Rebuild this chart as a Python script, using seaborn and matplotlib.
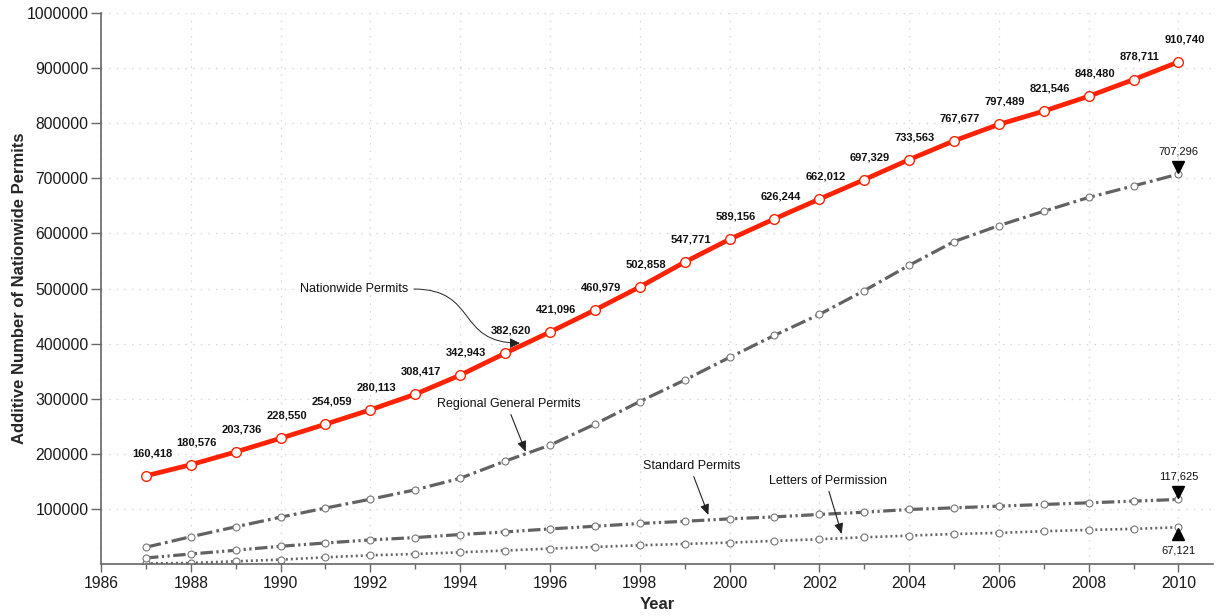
import pandas as pd
import matplotlib
matplotlib.use("Agg")
import matplotlib.pyplot as plt
import matplotlib.transforms as mtransforms
from matplotlib.path import Path
from matplotlib.patches import FancyArrowPatch
from matplotlib.ticker import MultipleLocator
import seaborn as sns

# Cumulative permit counts per year
years = list(range(1987, 2011))
nationwide = [160418, 180576, 203736, 228550, 254059, 280113, 308417, 342943,
              382620, 421096, 460979, 502858, 547771, 589156, 626244, 662012,
              697329, 733563, 767677, 797489, 821546, 848480, 878711, 910740]
regional = [31000, 50000, 68000, 85500, 102000, 118000, 135000, 156000,
            187000, 216000, 254000, 295000, 334000, 375000, 415000, 453000,
            496000, 542000, 585000, 614000, 640000, 665000, 686000, 707296]
standard = [11500, 18700, 25500, 32700, 38700, 44200, 48500, 54000,
            58700, 64200, 69000, 74000, 78000, 82400, 86000, 90400,
            94500, 99400, 102400, 105500, 108500, 111500, 114500, 117625]
letters = [1500, 2400, 5500, 8500, 12700, 16400, 18700, 21800,
           25000, 28500, 31500, 34500, 37000, 39400, 42400, 45500,
           49000, 52000, 55000, 57000, 60000, 62400, 64200, 67121]

df = pd.DataFrame({"Year": years, "Nationwide": nationwide, "Regional": regional,
                   "Standard": standard, "Letters": letters})

sns.set_style("white")
plt.rcParams["font.family"] = ["Liberation Sans", "DejaVu Sans"]
plt.rcParams["lines.scale_dashes"] = False

fig = plt.figure(figsize=(12.16, 6.16), dpi=100)
ax = fig.add_axes([0.0831, 0.0839, 0.9144, 0.8955])

gray = "#626262"
sns.lineplot(data=df, x="Year", y="Letters", ax=ax, color=gray, lw=1.9,
             linestyle=(0, (1.4, 2.2)), marker="o", markersize=5,
             markerfacecolor="white", markeredgecolor="#777777", markeredgewidth=0.8)
sns.lineplot(data=df, x="Year", y="Standard", ax=ax, color=gray, lw=2.3,
             linestyle=(0, (9, 2.5, 1.6, 2.5, 1.6, 2.5)), marker="o", markersize=5,
             markerfacecolor="white", markeredgecolor="#777777", markeredgewidth=0.8)
sns.lineplot(data=df, x="Year", y="Regional", ax=ax, color=gray, lw=2.3,
             linestyle=(0, (11, 3, 2, 3)), marker="o", markersize=5,
             markerfacecolor="white", markeredgecolor="#777777", markeredgewidth=0.8)
sns.lineplot(data=df, x="Year", y="Nationwide", ax=ax, color="#ff2200", lw=3.4,
             marker="o", markersize=7, markerfacecolor="white",
             markeredgecolor="#ff2200", markeredgewidth=1.0)

# value labels on the nationwide series
for x, v in zip(years, nationwide):
    ax.annotate(f"{v:,}", (x, v), xytext=(4.3, 16.3), textcoords="offset points",
                ha="center", va="center", fontsize=8, fontweight="bold", color="#111111")

# end markers and labels for 2010
up = mtransforms.offset_copy(ax.transData, fig=fig, x=0, y=5, units="points")
down = mtransforms.offset_copy(ax.transData, fig=fig, x=0, y=-5, units="points")
ax.plot([years[-1]], [regional[-1]], marker="v", color="black", ms=9, transform=up)
ax.plot([years[-1]], [standard[-1]], marker="v", color="black", ms=9, transform=up)
ax.plot([years[-1]], [letters[-1]], marker="^", color="black", ms=9, transform=down)
for v, dy in [(regional[-1], 16.5), (standard[-1], 16.5), (letters[-1], -16.5)]:
    ax.annotate(f"{v:,}", (years[-1], v), xytext=(0, dy), textcoords="offset points",
                ha="center", va="center", fontsize=8, color="#111111")

# series annotations
ax.text(1990.43, 499000, "Nationwide Permits", fontsize=9, va="center", color="#111111")
p0, p3 = (1992.97, 499000), (1995.33, 401000)
curve = Path([p0, (1994.4, 499000), (1993.9, 401000), p3],
             [Path.MOVETO, Path.CURVE4, Path.CURVE4, Path.CURVE4])
ax.add_patch(FancyArrowPatch(path=curve, arrowstyle="-|>,head_length=6,head_width=3",
                             color="#222222", lw=0.7, mutation_scale=1))

arrow = dict(arrowstyle="-|>,head_length=0.7,head_width=0.3", color="#222222", lw=0.8,
             relpos=(0.5, 0.0), shrinkA=1, shrinkB=0)
ax.annotate("Regional General Permits", xy=(1995.46, 204000), xytext=(1993.49, 290600),
            fontsize=9, va="center", ha="left", color="#111111", arrowprops=arrow)
ax.annotate("Standard Permits", xy=(1999.53, 89400), xytext=(1998.08, 178200),
            fontsize=9, va="center", ha="left", color="#111111", arrowprops=arrow)
ax.annotate("Letters of Permission", xy=(2002.5, 54900), xytext=(2000.87, 151600),
            fontsize=9, va="center", ha="left", color="#111111", arrowprops=arrow)

ax.set_xlim(1986, 2010.77)
ax.set_ylim(0, 1000000)
ax.xaxis.set_major_locator(MultipleLocator(2))
ax.xaxis.set_minor_locator(MultipleLocator(1))
ax.set_yticks(range(100000, 1000001, 100000))
ax.ticklabel_format(axis="y", style="plain")
ax.grid(True, which="major", color="#d4d4d4", linestyle=(0, (1, 4.5)), lw=0.9)
ax.tick_params(axis="y", length=7, width=1, color="#666666", pad=2,
               labelsize=11.3, labelcolor="#1a1a1a", left=True)
ax.tick_params(axis="x", which="major", length=5.5, width=1, color="#666666", pad=3,
               labelsize=11.3, labelcolor="#1a1a1a", bottom=True)
ax.tick_params(axis="x", which="minor", length=3.5, width=1, color="#666666", bottom=True)
sns.despine(ax=ax)
for s in ["left", "bottom"]:
    ax.spines[s].set_color("#666666")
    ax.spines[s].set_linewidth(1.2)

ax.set_xlabel("Year", fontsize=12, fontweight="bold", labelpad=4)
ax.set_ylabel("Additive Number of Nationwide Permits", fontsize=12, fontweight="bold", labelpad=0)

fig.savefig("out.png", dpi=100)
